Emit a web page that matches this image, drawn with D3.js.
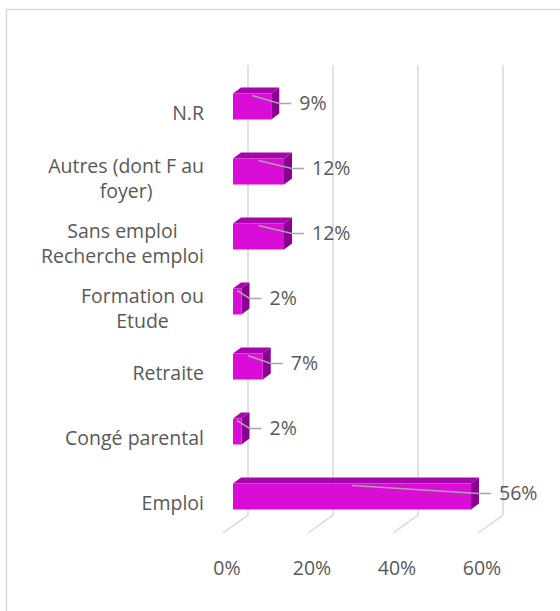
<!DOCTYPE html>
<html>
<head>
  <meta charset="utf-8">
  <script src="https://d3js.org/d3.v7.min.js"></script>
  <style>
    body { margin: 0; padding: 0; background: #fff; }
    #chart { width: 560px; height: 611px; }
    .lbl { font-family: "Open Sans", "Noto Sans", sans-serif; font-size: 19.5px; fill: #595959; }
  </style>
</head>
<body>
  <div id="chart"></div>
  <script>
    // data, top to bottom as shown
    var categories = ["N.R", "Autres (dont F au\nfoyer)", "Sans emploi\nRecherche emploi",
                      "Formation ou\nEtude", "Retraite", "Congé parental", "Emploi"];
    var values = [9, 12, 12, 2, 7, 2, 56];
    var ticks = [0, 20, 40, 60];

    var width = 560, height = 611;
    var wallTop = 65, wallBottom = 515;

    // 3d offsets (px): floor depth, bar front face, bar back face
    var floorD = {dx: -25, dy: 18};
    var front = {dx: -15, dy: 11};
    var back = {dx: -7, dy: 5};

    var svg = d3.select("#chart").append("svg")
      .attr("width", width)
      .attr("height", height);

    // chart frame
    svg.append("rect")
      .attr("x", 6.5).attr("y", 9.5)
      .attr("width", 600).attr("height", 700)
      .attr("fill", "none")
      .attr("stroke", "#d9d9d9")
      .attr("stroke-width", 1.5);

    var x = d3.scaleLinear().domain([0, 60]).range([248, 503]);
    var y = d3.scaleBand().domain(categories).range([63, 518])
      .paddingInner(0.6).paddingOuter(0.3);

    // back wall gridlines + floor lines
    var grid = svg.append("g");
    ticks.forEach(function(t) {
      grid.append("polyline")
        .attr("points", [[x(t), wallTop], [x(t), wallBottom], [x(t) + floorD.dx, wallBottom + floorD.dy]].join(" "))
        .attr("fill", "none")
        .attr("stroke", "#d9d9d9")
        .attr("stroke-width", 1.5);
    });

    svg.append("g").selectAll("text")
      .data(ticks)
      .enter().append("text")
        .attr("class", "lbl")
        .attr("x", function(d) { return x(d) - 21; })
        .attr("y", 568)
        .attr("dy", "0.35em")
        .attr("text-anchor", "middle")
        .text(function(d) { return d + "%"; });

    // bars
    var bars = svg.append("g").selectAll("g")
      .data(categories)
      .enter().append("g");

    function pts(arr) { return arr.map(function(p) { return p.join(","); }).join(" "); }

    bars.each(function(c, i) {
      var g = d3.select(this);
      var v = values[i];
      var x0 = x(0), x1 = x(v);
      var top = y(c), bot = y(c) + y.bandwidth();
      var fx0 = x0 + front.dx, fx1 = x1 + front.dx, ft = top + front.dy, fb = bot + front.dy;
      var bx1 = x1 + back.dx, bx0 = x0 + back.dx, bt = top + back.dy, bb = bot + back.dy;
      // top face
      g.append("polygon")
        .attr("points", pts([[fx0, ft], [fx1, ft], [bx1, bt], [bx0, bt]]))
        .attr("fill", "#a805ad");
      // side face
      g.append("polygon")
        .attr("points", pts([[fx1, ft], [bx1, bt], [bx1, bb], [fx1, fb]]))
        .attr("fill", "#8a0090");
      // front face
      g.append("rect")
        .attr("x", fx0).attr("y", ft)
        .attr("width", fx1 - fx0).attr("height", fb - ft)
        .attr("fill", "#da0cd8");

      // value label with leader line
      var lx = fx1 + 28;
      var ly = (ft + fb) / 2 - 3;
      var sx = (fx0 + fx1) / 2, sy = ft + 2;
      var ex = Math.max(sx, lx - 20);
      g.append("polyline")
        .attr("points", pts([[sx, sy], [ex, ly], [lx - 8, ly]]))
        .attr("fill", "none")
        .attr("stroke", "#a6a6a6")
        .attr("stroke-width", 1.5);
      g.append("text")
        .attr("class", "lbl")
        .attr("x", lx).attr("y", ly)
        .attr("dy", "0.35em")
        .text(v + "%");

      // category label: block right aligned, lines centered in block
      var lines = c.split("\n");
      var lh = 25;
      var cy = (ft + fb) / 2 + 7;
      var t = svg.append("text")
        .attr("class", "lbl")
        .attr("text-anchor", "middle");
      var spans = lines.map(function(s, k) {
        return t.append("tspan")
          .attr("y", cy + (k - (lines.length - 1) / 2) * lh)
          .attr("dy", "0.35em")
          .text(s);
      });
      var w = d3.max(spans, function(s) { return s.node().getComputedTextLength(); });
      spans.forEach(function(s) { s.attr("x", 204 - w / 2); });
    });
  </script>
</body>
</html>
